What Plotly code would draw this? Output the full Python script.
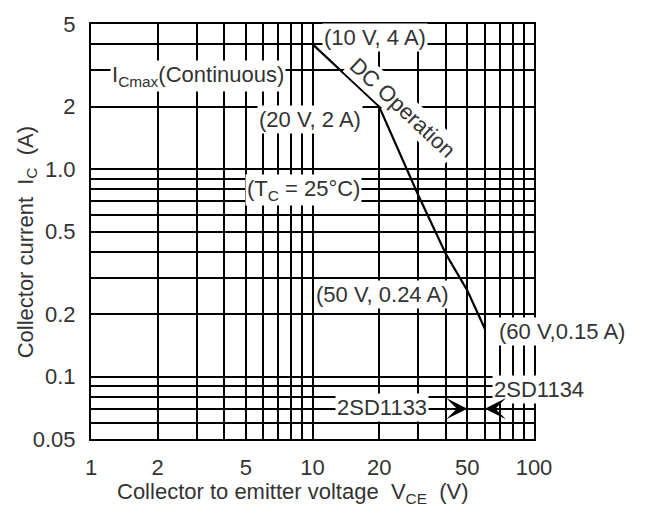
import numpy as np
import plotly.graph_objects as go

# ---- data ----
vce_dc = [10, 20, 30, 40, 50, 60]          # V
ic_dc = [4, 2, 0.75, 0.39, 0.26, 0.17]      # A

x_tickvals = [1, 2, 5, 10, 20, 50, 100]
x_ticktext = ["1", "2", "5", "10", "20", "50", "100"]
x_minorvals = [3, 4, 6, 7, 8, 9, 30, 40, 60, 70, 80, 90]
y_tickvals = [0.05, 0.1, 0.2, 0.5, 1.0, 2, 5]
y_ticktext = ["0.05", "0.1", "0.2", "0.5", "1.0", "2", "5"]
y_minorvals = [0.06, 0.07, 0.08, 0.09, 0.3, 0.4, 0.6, 0.7, 0.8, 0.9, 3, 4]

x_label = "Collector to emitter voltage  V<sub>CE</sub>  (V)"
y_label = "Collector current  I<sub>C</sub>  (A)"

# ---- layout helpers (pixel -> paper) ----
W, H = 646, 513
L, R, T, B = 91, 112, 19, 74
PW, PH = W - L - R, H - T - B


def px(xp):
    return (xp - L) / PW


def py(yp):
    return (H - B - yp) / PH


FONT = "Liberation Sans, Arial, sans-serif"
TXT = "#333333"
FS = 22
GW = 1.7

fig = go.Figure()
fig.add_trace(go.Scatter(x=vce_dc, y=ic_dc, mode="lines",
                         line=dict(color="black", width=2.2),
                         showlegend=False, hoverinfo="skip"))

axis_common = dict(
    showgrid=True, gridcolor="black", gridwidth=GW,
    showline=True, linecolor="black", linewidth=2, mirror=True,
    ticks="", zeroline=False,
    tickfont=dict(family=FONT, size=FS, color=TXT),
)
fig.update_xaxes(type="log", range=[0, 2], tickmode="array",
                 tickvals=x_tickvals, ticktext=x_ticktext,
                 minor=dict(tickmode="array", tickvals=x_minorvals, showgrid=True,
                            gridcolor="black", gridwidth=GW, ticks=""),
                 ticklabelstandoff=8, **axis_common)
fig.update_yaxes(type="log", range=[np.log10(0.05), np.log10(5)], tickmode="array",
                 tickvals=y_tickvals, ticktext=y_ticktext,
                 minor=dict(tickmode="array", tickvals=y_minorvals, showgrid=True,
                            gridcolor="black", gridwidth=GW, ticks=""),
                 ticklabelstandoff=9, **axis_common)

labels = [
    ("(10 V, 4 A)", 375, 33, 0),
    ("DC Operation", 402, 104, 43),
    ("I<sub>Cmax</sub>(Continuous)", 198, 72, 0),
    ("(20 V, 2 A)", 310, 116, 0),
    ("(T<sub>C</sub> = 25°C)", 303, 187, 0),
    ("(50 V, 0.24 A)", 382, 293, 0),
    ("(60 V,0.15 A)", 562, 330, 0),
    ("2SD1134", 539, 389, 0),
    ("2SD1133", 382, 407, 0),
]
ann = []
for text, xp, yp, ang in labels:
    ann.append(dict(text=text, x=px(xp), y=py(yp), xref="paper", yref="paper",
                    xanchor="center", yanchor="middle", showarrow=False,
                    textangle=ang, bgcolor="white", borderpad=1,
                    font=dict(family=FONT, size=FS, color=TXT)))

# arrows marking the 2SD1133 (50 V) and 2SD1134 (60 V) limits
for xv, off in [(50, -18), (60, 18)]:
    ann.append(dict(text="", x=np.log10(xv), y=np.log10(0.07), xref="x", yref="y",
                    showarrow=True, ax=off, ay=0, arrowhead=3, arrowsize=2.2,
                    arrowwidth=1.6, arrowcolor="black", standoff=0))

ann.append(dict(text=x_label, x=px(293), y=py(494), xref="paper", yref="paper",
                xanchor="center", yanchor="middle", showarrow=False,
                font=dict(family=FONT, size=FS, color=TXT)))
ann.append(dict(text=y_label, x=px(27), y=py(240), xref="paper", yref="paper",
                xanchor="center", yanchor="middle", showarrow=False, textangle=-90,
                font=dict(family=FONT, size=FS, color=TXT)))

fig.update_layout(
    width=W, height=H,
    margin=dict(l=L, r=R, t=T, b=B),
    paper_bgcolor="white", plot_bgcolor="white",
    annotations=ann,
    showlegend=False,
)

fig.write_html("out.html", config={"displayModeBar": False},
               post_script="document.body.style.margin='0';document.body.style.overflow='hidden';")
